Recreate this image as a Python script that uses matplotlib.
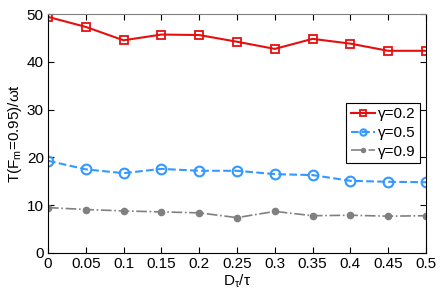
import matplotlib
matplotlib.use('Agg')
import matplotlib.pyplot as plt

plt.rcParams['font.family'] = ['Liberation Sans', 'DejaVu Sans']
plt.rcParams['mathtext.fontset'] = 'custom'
plt.rcParams['mathtext.rm'] = 'Liberation Sans'
plt.rcParams['mathtext.it'] = 'Liberation Sans'
plt.rcParams['mathtext.default'] = 'regular'

# data
d_tau = [0, 0.05, 0.1, 0.15, 0.2, 0.25, 0.3, 0.35, 0.4, 0.45, 0.5]
g02 = [49.4, 47.3, 44.5, 45.7, 45.6, 44.2, 42.7, 44.8, 43.8, 42.3, 42.3]
g05 = [19.3, 17.5, 16.7, 17.6, 17.2, 17.2, 16.5, 16.3, 15.1, 14.9, 14.8]
g09 = [9.5, 9.1, 8.8, 8.6, 8.4, 7.4, 8.7, 7.8, 7.9, 7.7, 7.8]
xticks = [0, 0.05, 0.1, 0.15, 0.2, 0.25, 0.3, 0.35, 0.4, 0.45, 0.5]
xticklabels = ['0', '0.05', '0.1', '0.15', '0.2', '0.25', '0.3', '0.35', '0.4', '0.45', '0.5']

fig = plt.figure(figsize=(4.43, 2.94), dpi=100)
ax = fig.add_axes([48/443, 1 - 253/294, 378/443, 239/294])

ax.plot(d_tau, g02, '-', color='#e41010', lw=1.5, marker='s', ms=6,
        mfc='none', mec='#e41010', mew=1.3, label='γ=0.2')
ax.plot(d_tau, g05, '--', color='#3399ff', lw=1.5, marker='o', ms=7,
        mfc='none', mec='#3399ff', mew=1.5, label='γ=0.5')
ax.plot(d_tau, g09, '-.', color='#808080', lw=1.2, marker='o', ms=4.5,
        mfc='#808080', mec='#808080', label='γ=0.9')

ax.set_xlim(0, 0.5)
ax.set_ylim(0, 50)
ax.set_xticks(xticks)
ax.set_xticklabels(xticklabels)
ax.set_yticks([0, 10, 20, 30, 40, 50])
ax.tick_params(direction='in', top=True, right=True, labelsize=11, length=4, pad=3)
for s in ax.spines.values():
    s.set_linewidth(0.8)
ax.spines['top'].set_color('#808080')

ax.set_xlabel('D$_τ$/τ', fontsize=11, labelpad=1)
ax.set_ylabel('T(F$_m$=0.95)/ωt', fontsize=11, labelpad=2)

leg = ax.legend(loc='upper right', bbox_to_anchor=(0.984, 0.628), fontsize=11,
                fancybox=False, edgecolor='black', framealpha=1,
                handlelength=1.6, handletextpad=0.15, borderpad=0.3,
                labelspacing=0.3, borderaxespad=0, markerscale=0.65)
leg.get_frame().set_linewidth(0.8)

fig.savefig('out.png', dpi=100)
